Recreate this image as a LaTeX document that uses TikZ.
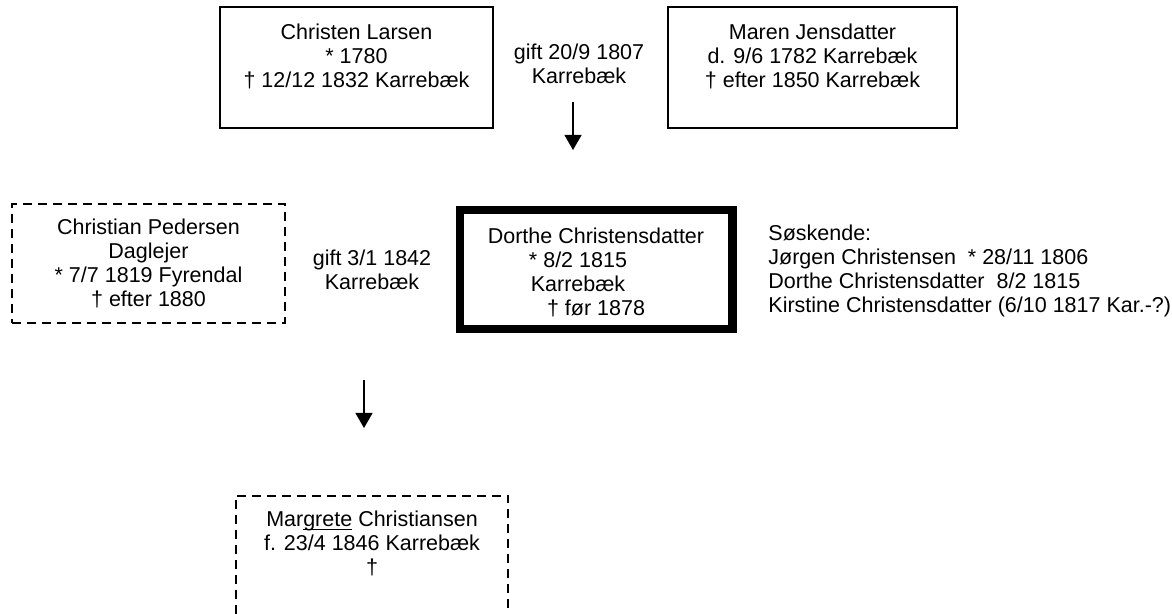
\documentclass[tikz,border=0pt]{standalone}
\usepackage{fontspec}
\setmainfont{Liberation Sans}
\usepackage{xcolor}
\usetikzlibrary{arrows.meta}

\begin{document}
\begin{tikzpicture}
  [x=0.5pt,y=-0.5pt,
   font=\fontsize{10.75}{12}\selectfont,
   person/.style={draw,line width=0.8pt,align=center,inner sep=0pt},
   other/.style={person,line width=1pt,dash pattern=on 4.5pt off 3pt},
   marriage/.style={align=center,inner sep=0pt},
   descent/.style={-{Triangle[width=8.5pt,length=7.5pt]},line width=0.6pt}]
\useasboundingbox (0,0) rectangle (1172,614);
% parents
\path
    [minimum height=60.5pt]
    (356.5,67.5) node [person,minimum width=136.5pt] (christen)
        {Christen Larsen\\* 1780\\† 12/12 1832 Karrebæk\\\mbox{}}
    (812.5,67.5) node [person,minimum width=144.5pt] (maren)
        {Maren Jensdatter\\d. 9/6 1782 Karrebæk\\† efter 1850 Karrebæk\\\mbox{}}
    (579,63.5) node [marriage] (gift1) {gift 20/9 1807\\Karrebæk};
\coordinate (a1start) at (573,102);
\coordinate (a1end) at (573,150);
\draw [descent] (a1start) -- (a1end);
% couple
\path
    [minimum height=59.5pt]
    (148.5,263.5) node [other,minimum width=136.5pt] (christian)
        {Christian Pedersen\\Daglejer\\* 7/7 1819 Fyrendal\\† efter 1880}
    (372,270) node [marriage,minimum height=0pt] (gift2) {gift 3/1 1842\\Karrebæk}
    (596,269.3) node [person,line width=4.25pt,minimum width=136.25pt] (dorthe)
        {\rule{0pt}{11pt}Dorthe Christensdatter\\* 8/2 1815\hspace*{18pt}\mbox{}\\Karrebæk\hspace*{18pt}\mbox{}\\† før 1878}
    (768,271) node [anchor=west,align=left,inner sep=0pt,minimum height=0pt] (siblings)
        {Søskende:\\Jørgen Christensen\ \ * 28/11 1806\\Dorthe Christensdatter\ \ 8/2 1815\\Kirstine Christensdatter (6/10 1817 Kar.-?)};
\coordinate (a2start) at (364,380);
\coordinate (a2end) at (364,428);
\draw [descent] (a2start) -- (a2end);
% child
\path
    (372,555) node [marriage,minimum width=136pt,minimum height=59pt] (margrete)
        {Mar\underline{\smash{grete}} Christiansen\\f. 23/4 1846 Karrebæk\\†\\\mbox{}};
\draw
    [line width=1pt,dash pattern=on 4.5pt off 3pt]
    (margrete.south west) -- (margrete.north west) --
    (margrete.north east) -- (margrete.south east);
\end{tikzpicture}
\end{document}
